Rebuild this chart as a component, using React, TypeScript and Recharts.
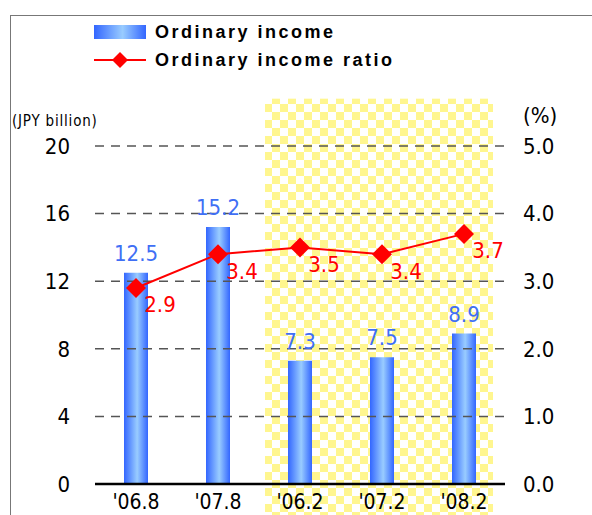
import React from 'react';
import {
  ComposedChart,
  Bar,
  Line,
  XAxis,
  YAxis,
  ReferenceArea,
  ReferenceLine,
  LabelList,
} from 'recharts';

const categories = ["'06.8", "'07.8", "'06.2", "'07.2", "'08.2"];
const ordinaryIncome = [12.5, 15.2, 7.3, 7.5, 8.9];
const incomeRatio = [2.9, 3.4, 3.5, 3.4, 3.7];
const leftTicks = [0, 4, 8, 12, 16, 20];
const rightTicks = [0, 1, 2, 3, 4, 5];

const chartData = categories.map((name, i) => ({
  name,
  income: ordinaryIncome[i],
  ratio: incomeRatio[i],
}));

const NUM_FONT = "'DejaVu Sans Condensed', 'DejaVu Sans', sans-serif";
const BLUE_LABEL = '#3f6ff5';

const Diamond = (props: any) => {
  const { cx, cy } = props;
  if (cx == null || cy == null) return null;
  const r = 10;
  return (
    <polygon
      points={`${cx},${cy - r} ${cx + r},${cy} ${cx},${cy + r} ${cx - r},${cy}`}
      fill="#ff0000"
    />
  );
};

const RatioLabel = (props: any) => {
  const { x, y, value } = props;
  return (
    <text
      x={x + 24}
      y={y + 17}
      textAnchor="middle"
      dominantBaseline="central"
      fill="#ff0000"
      fontSize={22}
      fontFamily={NUM_FONT}
    >
      {Number(value).toFixed(1)}
    </text>
  );
};

const ShadedArea = (props: any) => {
  const { x, y, width, height } = props;
  return <rect x={x + 6} y={y} width={width - 18} height={height} fill="url(#checker)" />;
};

// legend drawn as plain html so it doesn't eat plot height
const LegendBox = () => (
  <div
    style={{
      position: 'absolute',
      left: 94,
      top: 18,
      fontFamily: "'Liberation Sans', Arial, sans-serif",
      fontWeight: 'bold',
      fontSize: 18,
      letterSpacing: 2.5,
    }}
  >
    <div style={{ display: 'flex', alignItems: 'center', height: 28 }}>
      <div
        style={{
          width: 52,
          height: 14,
          background: 'linear-gradient(to right, #3366ff, #99ccff 55%, #3366ff)',
          marginRight: 9,
        }}
      />
      <span>Ordinary income</span>
    </div>
    <div style={{ display: 'flex', alignItems: 'center', height: 28 }}>
      <svg width={52} height={20} style={{ marginRight: 9 }}>
        <line x1={0} y1={10} x2={52} y2={10} stroke="#ff0000" strokeWidth={2} />
        <polygon points="26,2 34,10 26,18 18,10" fill="#ff0000" />
      </svg>
      <span>Ordinary income ratio</span>
    </div>
  </div>
);

export default function App() {
  return (
    <div style={{ position: 'fixed', left: 0, top: 0, width: 592, height: 515, overflow: 'hidden', background: '#fff' }}>
      <div
        style={{
          position: 'absolute',
          left: 10,
          top: 15,
          width: 620,
          height: 540,
          border: '1.5px solid #777',
        }}
      />
      <div style={{ position: 'absolute', left: 0, top: 0 }}>
        <ComposedChart
          width={592}
          height={515}
          data={chartData}
          margin={{ top: 146, right: 0, bottom: 0, left: 0 }}
        >
          <defs>
            <linearGradient id="barGrad" x1="0" y1="0" x2="1" y2="0">
              <stop offset="0%" stopColor="#3366ff" />
              <stop offset="55%" stopColor="#99ccff" />
              <stop offset="100%" stopColor="#3366ff" />
            </linearGradient>
            <pattern id="checker" x="0" y="0" width="16" height="16" patternUnits="userSpaceOnUse">
              <rect x={0} y={0} width={16} height={16} fill="#ffffff" />
              <rect x={0} y={0} width={8} height={8} fill="#fff68f" />
              <rect x={8} y={8} width={8} height={8} fill="#fff68f" />
            </pattern>
          </defs>
          <XAxis
            dataKey="name"
            height={31}
            tickLine={false}
            axisLine={{ stroke: '#000', strokeWidth: 2.5 }}
            tick={{ fontSize: 21, fill: '#000', fontFamily: NUM_FONT }}
            tickMargin={4}
          />
          <YAxis
            yAxisId="left"
            orientation="left"
            width={95}
            domain={[0, 20]}
            ticks={leftTicks}
            allowDataOverflow
            axisLine={false}
            tickLine={false}
            tickMargin={19}
            tick={{ fontSize: 22, fill: '#000', fontFamily: NUM_FONT }}
          />
          <YAxis
            yAxisId="right"
            orientation="right"
            width={87}
            domain={[0, 5]}
            ticks={rightTicks}
            axisLine={false}
            tickLine={false}
            tickMargin={12}
            tickFormatter={(v: number) => v.toFixed(1)}
            tick={{ fontSize: 22, fill: '#000', fontFamily: NUM_FONT }}
          />
          <ReferenceArea
            yAxisId="left"
            x1="'06.2"
            x2="'08.2"
            y1={-2}
            y2={22.8}
            ifOverflow="visible"
            shape={<ShadedArea />}
          />
          {leftTicks.slice(1).map((t) => (
            <ReferenceLine
              key={t}
              yAxisId="left"
              y={t}
              stroke="#555"
              strokeWidth={1.5}
              strokeDasharray="9 7"
            />
          ))}
          <Bar
            yAxisId="left"
            dataKey="income"
            barSize={24}
            fill="url(#barGrad)"
            isAnimationActive={false}
          >
            <LabelList
              dataKey="income"
              position="top"
              offset={12}
              fill={BLUE_LABEL}
              fontSize={22}
              fontFamily={NUM_FONT}
              formatter={(v: any) => Number(v).toFixed(1)}
            />
          </Bar>
          <Line
            yAxisId="right"
            dataKey="ratio"
            stroke="#ff0000"
            strokeWidth={2}
            dot={<Diamond />}
            activeDot={false}
            isAnimationActive={false}
          >
            <LabelList dataKey="ratio" content={<RatioLabel />} />
          </Line>
        </ComposedChart>
      </div>
      <LegendBox />
      <div
        style={{
          position: 'absolute',
          left: 12,
          top: 112,
          fontFamily: NUM_FONT,
          fontSize: 15,
          letterSpacing: 0.8,
        }}
      >
        (JPY billion)
      </div>
      <div
        style={{
          position: 'absolute',
          left: 523,
          top: 103,
          fontFamily: NUM_FONT,
          fontSize: 22,
        }}
      >
        (%)
      </div>
    </div>
  );
}
